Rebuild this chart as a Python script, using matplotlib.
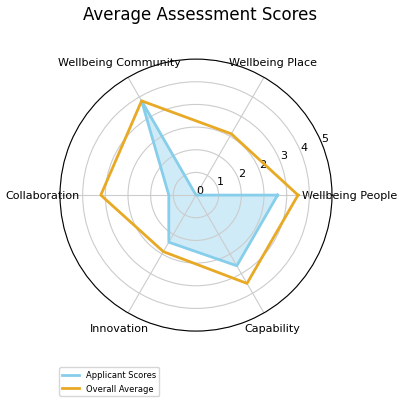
import numpy as np
import matplotlib
matplotlib.use("Agg")
import matplotlib.pyplot as plt

# -------------------------------
# Data
# -------------------------------
categories = ["Wellbeing People", "Wellbeing Place", "Wellbeing Community",
              "Collaboration", "Innovation", "Capability"]
applicant_scores = [3.0, 0.0, 4.0, 1.0, 2.0, 3.0]
overall_average = [3.75, 2.6, 4.0, 3.5, 2.4, 3.75]

# -------------------------------
# Radar chart
# -------------------------------
n = len(categories)
angles = np.linspace(0, 2 * np.pi, n, endpoint=False).tolist()
angles += angles[:1]
app = applicant_scores + applicant_scores[:1]
avg = overall_average + overall_average[:1]

fig = plt.figure(figsize=(4, 4.06), dpi=100)
ax = fig.add_axes([0.15, 0.182, 0.68, 0.67], polar=True)

ax.plot(angles, app, color="#87CEEB", linewidth=2, label="Applicant Scores")
ax.fill(angles, app, color="#87CEEB", alpha=0.4)
ax.plot(angles, avg, color="#E8A925", linewidth=2, label="Overall Average")

# radial ticks: 7 evenly spaced rings, labels rounded
rticks = np.linspace(0, 5, 7)
ax.set_ylim(0, 5)
ax.set_yticks(rticks)
ax.set_yticklabels(["%.0f" % t for t in rticks], fontsize=8)
ax.set_xticks(angles[:-1])
ax.set_xticklabels(categories, fontsize=8)
ax.tick_params(axis="x", pad=2)
ax.grid(color="#cccccc", linewidth=0.8)

fig.text(0.5, 0.963, "Average Assessment Scores", ha="center", va="center", fontsize=12)
fig.legend(loc="lower left", bbox_to_anchor=(0.137, 0.012), fontsize=6)

plt.savefig("out.png", dpi=100)
